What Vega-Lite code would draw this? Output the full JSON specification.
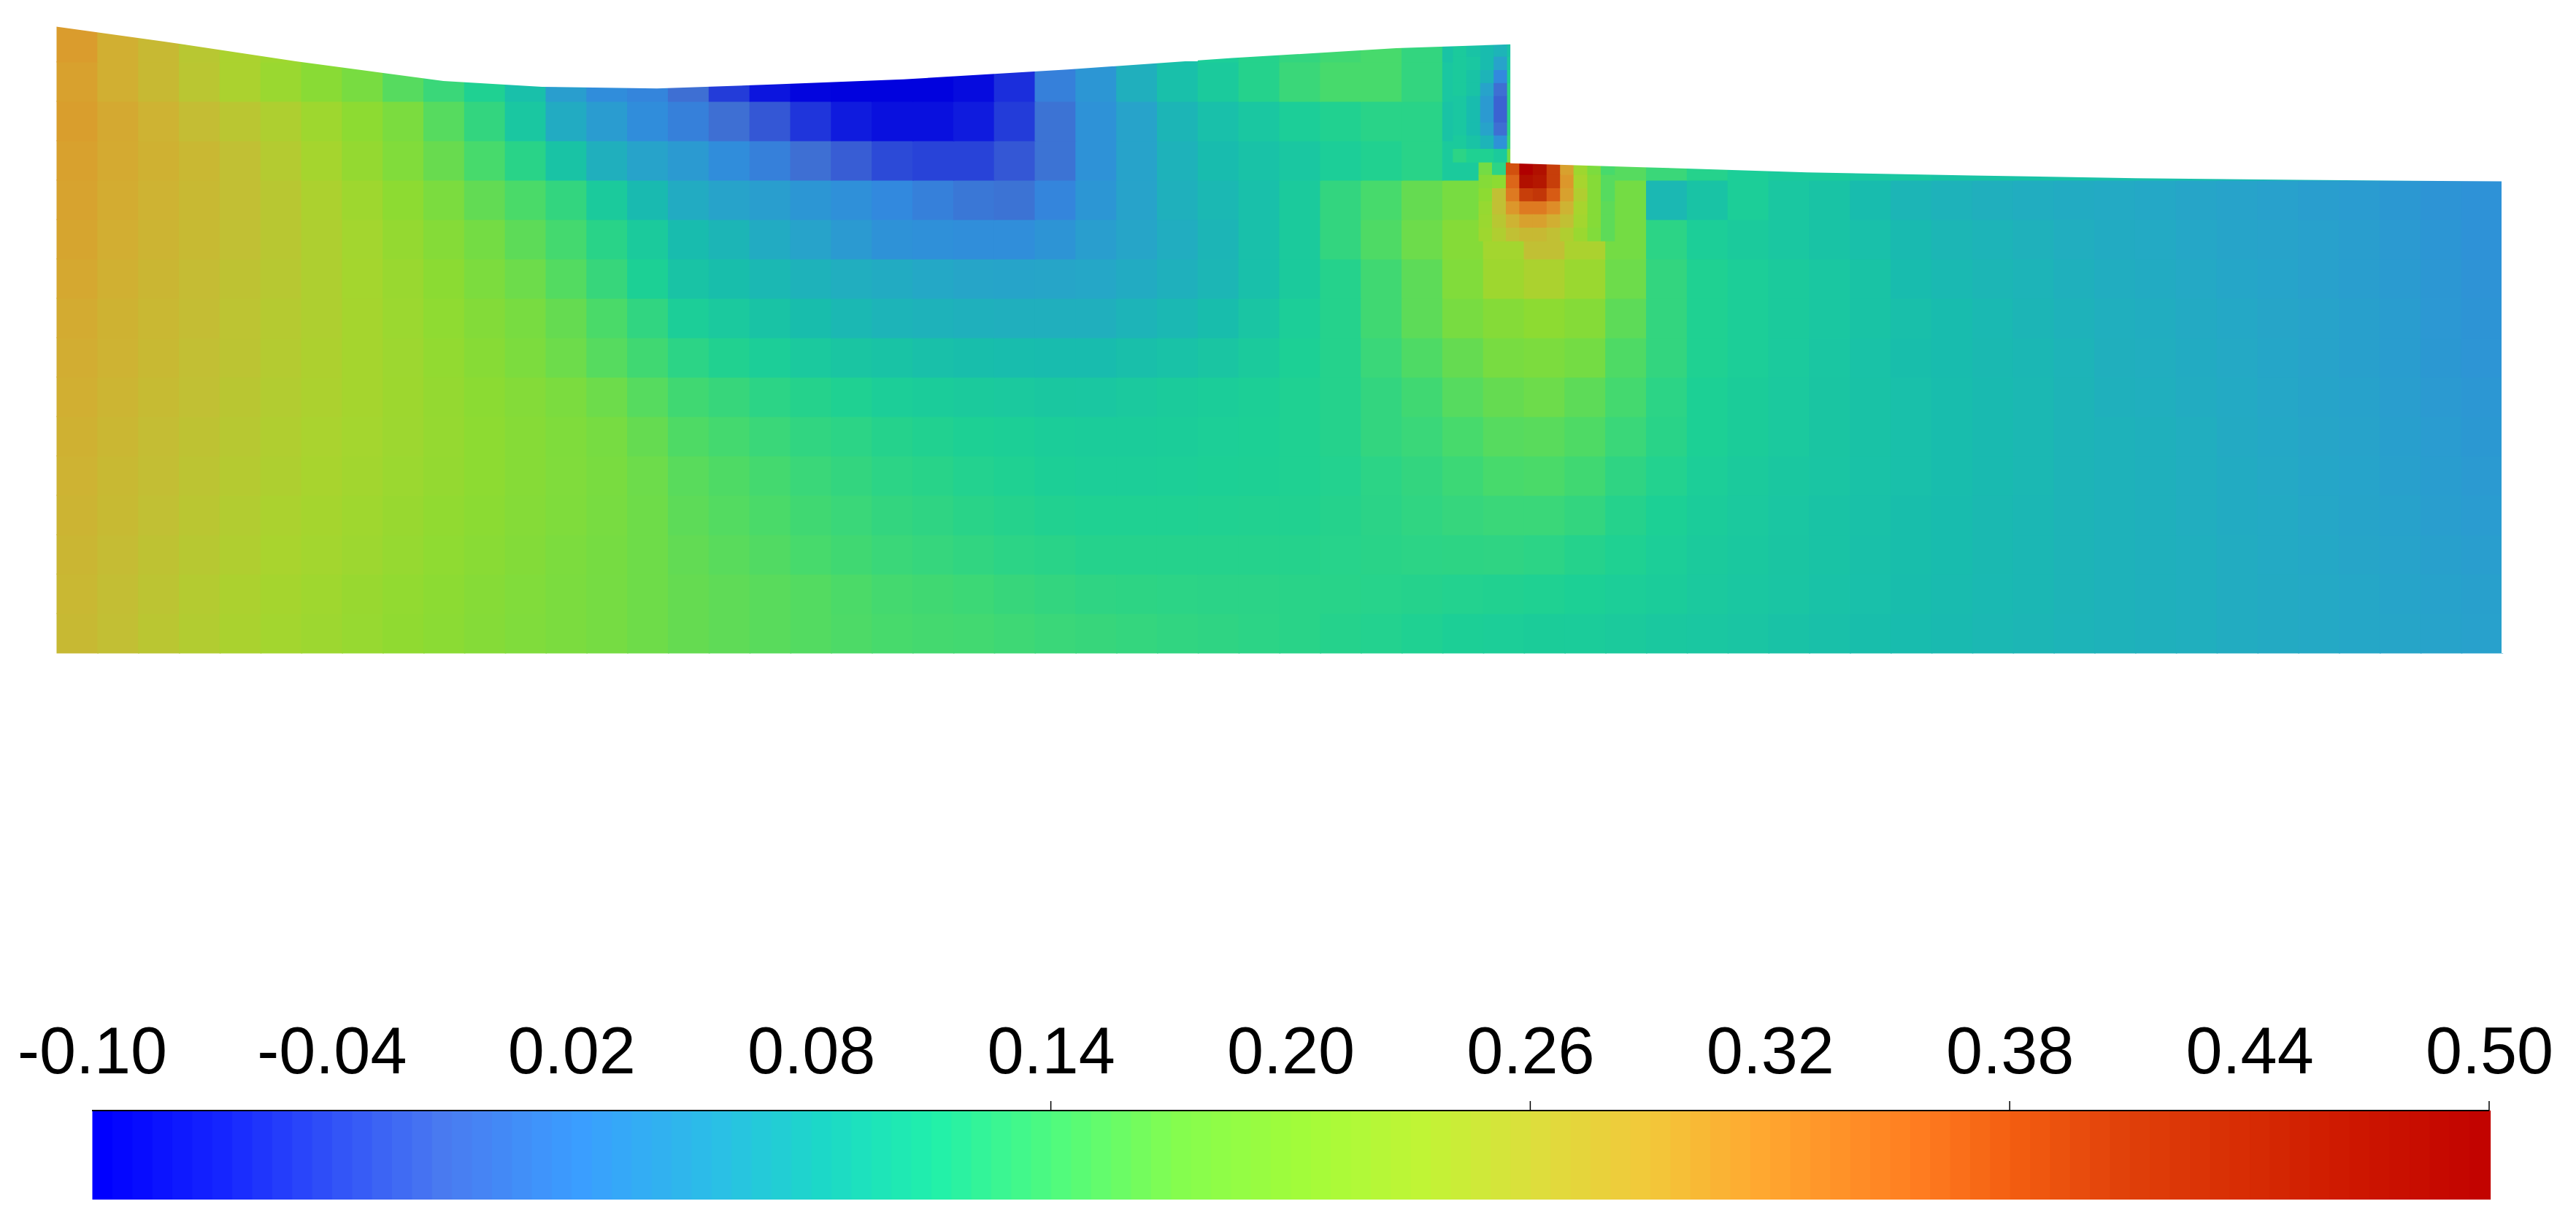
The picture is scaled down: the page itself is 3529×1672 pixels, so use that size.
{"$schema":"https://vega.github.io/schema/vega-lite/v6.json","width":3529,"height":1672,"autosize":"none","padding":0,"background":"white","config":{"view":{"stroke":null}},
"datasets":{
"cells":[
{"x":0,"y":0,"v":0.27},{"x":1,"y":0,"v":0.261},{"x":2,"y":0,"v":0.252},{"x":3,"y":0,"v":0.243},{"x":4,"y":0,"v":0.234},{"x":5,"y":0,"v":0.225},{"x":6,"y":0,"v":0.218},{"x":7,"y":0,"v":0.211},{"x":8,"y":0,"v":0.204},{"x":9,"y":0,"v":0.197},{"x":10,"y":0,"v":0.19},{"x":11,"y":0,"v":0.184},{"x":12,"y":0,"v":0.178},{"x":13,"y":0,"v":0.172},{"x":14,"y":0,"v":0.166},{"x":15,"y":0,"v":0.16},{"x":16,"y":0,"v":0.156},{"x":17,"y":0,"v":0.152},{"x":18,"y":0,"v":0.148},{"x":19,"y":0,"v":0.144},{"x":20,"y":0,"v":0.14},{"x":21,"y":0,"v":0.138},{"x":22,"y":0,"v":0.136},{"x":23,"y":0,"v":0.133},{"x":24,"y":0,"v":0.13},{"x":25,"y":0,"v":0.128},{"x":26,"y":0,"v":0.126},{"x":27,"y":0,"v":0.124},{"x":28,"y":0,"v":0.122},{"x":29,"y":0,"v":0.12},{"x":30,"y":0,"v":0.118},{"x":31,"y":0,"v":0.115},{"x":32,"y":0,"v":0.113},{"x":33,"y":0,"v":0.11},{"x":34,"y":0,"v":0.107},{"x":35,"y":0,"v":0.105},{"x":36,"y":0,"v":0.103},{"x":37,"y":0,"v":0.102},{"x":38,"y":0,"v":0.1},{"x":39,"y":0,"v":0.097},{"x":40,"y":0,"v":0.095},{"x":41,"y":0,"v":0.092},{"x":42,"y":0,"v":0.089},{"x":43,"y":0,"v":0.086},{"x":44,"y":0,"v":0.083},{"x":45,"y":0,"v":0.08},{"x":46,"y":0,"v":0.078},{"x":47,"y":0,"v":0.075},{"x":48,"y":0,"v":0.073},{"x":49,"y":0,"v":0.07},{"x":50,"y":0,"v":0.068},{"x":51,"y":0,"v":0.066},{"x":52,"y":0,"v":0.064},{"x":53,"y":0,"v":0.061},{"x":54,"y":0,"v":0.059},{"x":55,"y":0,"v":0.057},{"x":56,"y":0,"v":0.055},{"x":57,"y":0,"v":0.053},{"x":58,"y":0,"v":0.05},{"x":59,"y":0,"v":0.048},
{"x":0,"y":1,"v":0.272},{"x":1,"y":1,"v":0.263},{"x":2,"y":1,"v":0.254},{"x":3,"y":1,"v":0.245},{"x":4,"y":1,"v":0.236},{"x":5,"y":1,"v":0.228},{"x":6,"y":1,"v":0.221},{"x":7,"y":1,"v":0.213},{"x":8,"y":1,"v":0.206},{"x":9,"y":1,"v":0.199},{"x":10,"y":1,"v":0.192},{"x":11,"y":1,"v":0.185},{"x":12,"y":1,"v":0.179},{"x":13,"y":1,"v":0.172},{"x":14,"y":1,"v":0.166},{"x":15,"y":1,"v":0.16},{"x":16,"y":1,"v":0.156},{"x":17,"y":1,"v":0.152},{"x":18,"y":1,"v":0.148},{"x":19,"y":1,"v":0.143},{"x":20,"y":1,"v":0.138},{"x":21,"y":1,"v":0.135},{"x":22,"y":1,"v":0.132},{"x":23,"y":1,"v":0.128},{"x":24,"y":1,"v":0.125},{"x":25,"y":1,"v":0.122},{"x":26,"y":1,"v":0.121},{"x":27,"y":1,"v":0.12},{"x":28,"y":1,"v":0.119},{"x":29,"y":1,"v":0.119},{"x":30,"y":1,"v":0.118},{"x":31,"y":1,"v":0.117},{"x":32,"y":1,"v":0.116},{"x":33,"y":1,"v":0.115},{"x":34,"y":1,"v":0.113},{"x":35,"y":1,"v":0.112},{"x":36,"y":1,"v":0.11},{"x":37,"y":1,"v":0.108},{"x":38,"y":1,"v":0.105},{"x":39,"y":1,"v":0.102},{"x":40,"y":1,"v":0.098},{"x":41,"y":1,"v":0.095},{"x":42,"y":1,"v":0.092},{"x":43,"y":1,"v":0.088},{"x":44,"y":1,"v":0.085},{"x":45,"y":1,"v":0.082},{"x":46,"y":1,"v":0.079},{"x":47,"y":1,"v":0.076},{"x":48,"y":1,"v":0.074},{"x":49,"y":1,"v":0.071},{"x":50,"y":1,"v":0.068},{"x":51,"y":1,"v":0.066},{"x":52,"y":1,"v":0.064},{"x":53,"y":1,"v":0.061},{"x":54,"y":1,"v":0.059},{"x":55,"y":1,"v":0.057},{"x":56,"y":1,"v":0.055},{"x":57,"y":1,"v":0.052},{"x":58,"y":1,"v":0.049},{"x":59,"y":1,"v":0.047},
{"x":0,"y":2,"v":0.275},{"x":1,"y":2,"v":0.266},{"x":2,"y":2,"v":0.257},{"x":3,"y":2,"v":0.249},{"x":4,"y":2,"v":0.24},{"x":5,"y":2,"v":0.232},{"x":6,"y":2,"v":0.225},{"x":7,"y":2,"v":0.218},{"x":8,"y":2,"v":0.21},{"x":9,"y":2,"v":0.202},{"x":10,"y":2,"v":0.195},{"x":11,"y":2,"v":0.188},{"x":12,"y":2,"v":0.18},{"x":13,"y":2,"v":0.173},{"x":14,"y":2,"v":0.166},{"x":15,"y":2,"v":0.158},{"x":16,"y":2,"v":0.152},{"x":17,"y":2,"v":0.147},{"x":18,"y":2,"v":0.14},{"x":19,"y":2,"v":0.135},{"x":20,"y":2,"v":0.13},{"x":21,"y":2,"v":0.127},{"x":22,"y":2,"v":0.124},{"x":23,"y":2,"v":0.12},{"x":24,"y":2,"v":0.118},{"x":25,"y":2,"v":0.115},{"x":26,"y":2,"v":0.115},{"x":27,"y":2,"v":0.115},{"x":28,"y":2,"v":0.115},{"x":29,"y":2,"v":0.115},{"x":30,"y":2,"v":0.115},{"x":31,"y":2,"v":0.116},{"x":32,"y":2,"v":0.118},{"x":33,"y":2,"v":0.12},{"x":34,"y":2,"v":0.121},{"x":35,"y":2,"v":0.122},{"x":36,"y":2,"v":0.12},{"x":37,"y":2,"v":0.115},{"x":38,"y":2,"v":0.11},{"x":39,"y":2,"v":0.105},{"x":40,"y":2,"v":0.1},{"x":41,"y":2,"v":0.097},{"x":42,"y":2,"v":0.093},{"x":43,"y":2,"v":0.09},{"x":44,"y":2,"v":0.086},{"x":45,"y":2,"v":0.083},{"x":46,"y":2,"v":0.08},{"x":47,"y":2,"v":0.077},{"x":48,"y":2,"v":0.074},{"x":49,"y":2,"v":0.071},{"x":50,"y":2,"v":0.068},{"x":51,"y":2,"v":0.066},{"x":52,"y":2,"v":0.064},{"x":53,"y":2,"v":0.061},{"x":54,"y":2,"v":0.058},{"x":55,"y":2,"v":0.056},{"x":56,"y":2,"v":0.053},{"x":57,"y":2,"v":0.05},{"x":58,"y":2,"v":0.047},{"x":59,"y":2,"v":0.045},
{"x":0,"y":3,"v":0.278},{"x":1,"y":3,"v":0.269},{"x":2,"y":3,"v":0.26},{"x":3,"y":3,"v":0.252},{"x":4,"y":3,"v":0.243},{"x":5,"y":3,"v":0.235},{"x":6,"y":3,"v":0.228},{"x":7,"y":3,"v":0.221},{"x":8,"y":3,"v":0.213},{"x":9,"y":3,"v":0.205},{"x":10,"y":3,"v":0.198},{"x":11,"y":3,"v":0.19},{"x":12,"y":3,"v":0.183},{"x":13,"y":3,"v":0.175},{"x":14,"y":3,"v":0.166},{"x":15,"y":3,"v":0.155},{"x":16,"y":3,"v":0.148},{"x":17,"y":3,"v":0.142},{"x":18,"y":3,"v":0.135},{"x":19,"y":3,"v":0.13},{"x":20,"y":3,"v":0.125},{"x":21,"y":3,"v":0.122},{"x":22,"y":3,"v":0.118},{"x":23,"y":3,"v":0.115},{"x":24,"y":3,"v":0.112},{"x":25,"y":3,"v":0.11},{"x":26,"y":3,"v":0.11},{"x":27,"y":3,"v":0.11},{"x":28,"y":3,"v":0.111},{"x":29,"y":3,"v":0.112},{"x":30,"y":3,"v":0.112},{"x":31,"y":3,"v":0.115},{"x":32,"y":3,"v":0.119},{"x":33,"y":3,"v":0.123},{"x":34,"y":3,"v":0.127},{"x":35,"y":3,"v":0.13},{"x":36,"y":3,"v":0.13},{"x":37,"y":3,"v":0.125},{"x":38,"y":3,"v":0.115},{"x":39,"y":3,"v":0.108},{"x":40,"y":3,"v":0.102},{"x":41,"y":3,"v":0.098},{"x":42,"y":3,"v":0.094},{"x":43,"y":3,"v":0.09},{"x":44,"y":3,"v":0.087},{"x":45,"y":3,"v":0.083},{"x":46,"y":3,"v":0.08},{"x":47,"y":3,"v":0.077},{"x":48,"y":3,"v":0.074},{"x":49,"y":3,"v":0.071},{"x":50,"y":3,"v":0.068},{"x":51,"y":3,"v":0.066},{"x":52,"y":3,"v":0.063},{"x":53,"y":3,"v":0.06},{"x":54,"y":3,"v":0.058},{"x":55,"y":3,"v":0.055},{"x":56,"y":3,"v":0.052},{"x":57,"y":3,"v":0.049},{"x":58,"y":3,"v":0.045},{"x":59,"y":3,"v":0.042},
{"x":0,"y":4,"v":0.28},{"x":1,"y":4,"v":0.271},{"x":2,"y":4,"v":0.263},{"x":3,"y":4,"v":0.254},{"x":4,"y":4,"v":0.246},{"x":5,"y":4,"v":0.238},{"x":6,"y":4,"v":0.231},{"x":7,"y":4,"v":0.224},{"x":8,"y":4,"v":0.216},{"x":9,"y":4,"v":0.208},{"x":10,"y":4,"v":0.2},{"x":11,"y":4,"v":0.192},{"x":12,"y":4,"v":0.184},{"x":13,"y":4,"v":0.176},{"x":14,"y":4,"v":0.165},{"x":15,"y":4,"v":0.152},{"x":16,"y":4,"v":0.145},{"x":17,"y":4,"v":0.138},{"x":18,"y":4,"v":0.13},{"x":19,"y":4,"v":0.125},{"x":20,"y":4,"v":0.12},{"x":21,"y":4,"v":0.117},{"x":22,"y":4,"v":0.113},{"x":23,"y":4,"v":0.11},{"x":24,"y":4,"v":0.107},{"x":25,"y":4,"v":0.105},{"x":26,"y":4,"v":0.105},{"x":27,"y":4,"v":0.106},{"x":28,"y":4,"v":0.108},{"x":29,"y":4,"v":0.109},{"x":30,"y":4,"v":0.11},{"x":31,"y":4,"v":0.113},{"x":32,"y":4,"v":0.12},{"x":33,"y":4,"v":0.125},{"x":34,"y":4,"v":0.132},{"x":35,"y":4,"v":0.14},{"x":36,"y":4,"v":0.142},{"x":37,"y":4,"v":0.135},{"x":38,"y":4,"v":0.122},{"x":39,"y":4,"v":0.113},{"x":40,"y":4,"v":0.105},{"x":41,"y":4,"v":0.1},{"x":42,"y":4,"v":0.096},{"x":43,"y":4,"v":0.092},{"x":44,"y":4,"v":0.088},{"x":45,"y":4,"v":0.085},{"x":46,"y":4,"v":0.081},{"x":47,"y":4,"v":0.078},{"x":48,"y":4,"v":0.075},{"x":49,"y":4,"v":0.071},{"x":50,"y":4,"v":0.068},{"x":51,"y":4,"v":0.066},{"x":52,"y":4,"v":0.063},{"x":53,"y":4,"v":0.06},{"x":54,"y":4,"v":0.057},{"x":55,"y":4,"v":0.054},{"x":56,"y":4,"v":0.051},{"x":57,"y":4,"v":0.047},{"x":58,"y":4,"v":0.043},{"x":59,"y":4,"v":0.04},
{"x":0,"y":5,"v":0.283},{"x":1,"y":5,"v":0.274},{"x":2,"y":5,"v":0.265},{"x":3,"y":5,"v":0.257},{"x":4,"y":5,"v":0.248},{"x":5,"y":5,"v":0.24},{"x":6,"y":5,"v":0.233},{"x":7,"y":5,"v":0.226},{"x":8,"y":5,"v":0.218},{"x":9,"y":5,"v":0.209},{"x":10,"y":5,"v":0.2},{"x":11,"y":5,"v":0.192},{"x":12,"y":5,"v":0.183},{"x":13,"y":5,"v":0.174},{"x":14,"y":5,"v":0.16},{"x":15,"y":5,"v":0.145},{"x":16,"y":5,"v":0.138},{"x":17,"y":5,"v":0.13},{"x":18,"y":5,"v":0.124},{"x":19,"y":5,"v":0.12},{"x":20,"y":5,"v":0.115},{"x":21,"y":5,"v":0.112},{"x":22,"y":5,"v":0.109},{"x":23,"y":5,"v":0.107},{"x":24,"y":5,"v":0.104},{"x":25,"y":5,"v":0.102},{"x":26,"y":5,"v":0.102},{"x":27,"y":5,"v":0.104},{"x":28,"y":5,"v":0.106},{"x":29,"y":5,"v":0.108},{"x":30,"y":5,"v":0.11},{"x":31,"y":5,"v":0.115},{"x":32,"y":5,"v":0.125},{"x":33,"y":5,"v":0.13},{"x":34,"y":5,"v":0.14},{"x":35,"y":5,"v":0.15},{"x":36,"y":5,"v":0.152},{"x":37,"y":5,"v":0.145},{"x":38,"y":5,"v":0.13},{"x":39,"y":5,"v":0.118},{"x":40,"y":5,"v":0.108},{"x":41,"y":5,"v":0.103},{"x":42,"y":5,"v":0.098},{"x":43,"y":5,"v":0.093},{"x":44,"y":5,"v":0.089},{"x":45,"y":5,"v":0.085},{"x":46,"y":5,"v":0.081},{"x":47,"y":5,"v":0.078},{"x":48,"y":5,"v":0.075},{"x":49,"y":5,"v":0.071},{"x":50,"y":5,"v":0.068},{"x":51,"y":5,"v":0.066},{"x":52,"y":5,"v":0.063},{"x":53,"y":5,"v":0.059},{"x":54,"y":5,"v":0.056},{"x":55,"y":5,"v":0.053},{"x":56,"y":5,"v":0.05},{"x":57,"y":5,"v":0.046},{"x":58,"y":5,"v":0.042},{"x":59,"y":5,"v":0.038},
{"x":0,"y":6,"v":0.285},{"x":1,"y":6,"v":0.277},{"x":2,"y":6,"v":0.268},{"x":3,"y":6,"v":0.26},{"x":4,"y":6,"v":0.251},{"x":5,"y":6,"v":0.243},{"x":6,"y":6,"v":0.236},{"x":7,"y":6,"v":0.228},{"x":8,"y":6,"v":0.219},{"x":9,"y":6,"v":0.208},{"x":10,"y":6,"v":0.198},{"x":11,"y":6,"v":0.189},{"x":12,"y":6,"v":0.178},{"x":13,"y":6,"v":0.165},{"x":14,"y":6,"v":0.15},{"x":15,"y":6,"v":0.135},{"x":16,"y":6,"v":0.128},{"x":17,"y":6,"v":0.12},{"x":18,"y":6,"v":0.115},{"x":19,"y":6,"v":0.11},{"x":20,"y":6,"v":0.105},{"x":21,"y":6,"v":0.102},{"x":22,"y":6,"v":0.1},{"x":23,"y":6,"v":0.098},{"x":24,"y":6,"v":0.096},{"x":25,"y":6,"v":0.095},{"x":26,"y":6,"v":0.098},{"x":27,"y":6,"v":0.101},{"x":28,"y":6,"v":0.104},{"x":29,"y":6,"v":0.107},{"x":30,"y":6,"v":0.11},{"x":31,"y":6,"v":0.115},{"x":32,"y":6,"v":0.125},{"x":33,"y":6,"v":0.135},{"x":34,"y":6,"v":0.15},{"x":35,"y":6,"v":0.16},{"x":36,"y":6,"v":0.165},{"x":37,"y":6,"v":0.155},{"x":38,"y":6,"v":0.138},{"x":39,"y":6,"v":0.12},{"x":40,"y":6,"v":0.108},{"x":41,"y":6,"v":0.103},{"x":42,"y":6,"v":0.098},{"x":43,"y":6,"v":0.093},{"x":44,"y":6,"v":0.089},{"x":45,"y":6,"v":0.085},{"x":46,"y":6,"v":0.081},{"x":47,"y":6,"v":0.078},{"x":48,"y":6,"v":0.075},{"x":49,"y":6,"v":0.071},{"x":50,"y":6,"v":0.066},{"x":51,"y":6,"v":0.064},{"x":52,"y":6,"v":0.061},{"x":53,"y":6,"v":0.058},{"x":54,"y":6,"v":0.055},{"x":55,"y":6,"v":0.052},{"x":56,"y":6,"v":0.049},{"x":57,"y":6,"v":0.045},{"x":58,"y":6,"v":0.04},{"x":59,"y":6,"v":0.036},
{"x":0,"y":7,"v":0.288},{"x":1,"y":7,"v":0.28},{"x":2,"y":7,"v":0.271},{"x":3,"y":7,"v":0.262},{"x":4,"y":7,"v":0.254},{"x":5,"y":7,"v":0.245},{"x":6,"y":7,"v":0.237},{"x":7,"y":7,"v":0.228},{"x":8,"y":7,"v":0.218},{"x":9,"y":7,"v":0.206},{"x":10,"y":7,"v":0.193},{"x":11,"y":7,"v":0.18},{"x":12,"y":7,"v":0.165},{"x":13,"y":7,"v":0.15},{"x":14,"y":7,"v":0.135},{"x":15,"y":7,"v":0.12},{"x":16,"y":7,"v":0.112},{"x":17,"y":7,"v":0.105},{"x":18,"y":7,"v":0.098},{"x":19,"y":7,"v":0.093},{"x":20,"y":7,"v":0.09},{"x":21,"y":7,"v":0.086},{"x":22,"y":7,"v":0.083},{"x":23,"y":7,"v":0.081},{"x":24,"y":7,"v":0.08},{"x":25,"y":7,"v":0.08},{"x":26,"y":7,"v":0.084},{"x":27,"y":7,"v":0.088},{"x":28,"y":7,"v":0.093},{"x":29,"y":7,"v":0.1},{"x":30,"y":7,"v":0.108},{"x":31,"y":7,"v":0.115},{"x":32,"y":7,"v":0.13},{"x":33,"y":7,"v":0.145},{"x":34,"y":7,"v":0.16},{"x":35,"y":7,"v":0.175},{"x":36,"y":7,"v":0.18},{"x":37,"y":7,"v":0.17},{"x":38,"y":7,"v":0.145},{"x":39,"y":7,"v":0.125},{"x":40,"y":7,"v":0.11},{"x":41,"y":7,"v":0.105},{"x":42,"y":7,"v":0.099},{"x":43,"y":7,"v":0.094},{"x":44,"y":7,"v":0.088},{"x":45,"y":7,"v":0.083},{"x":46,"y":7,"v":0.08},{"x":47,"y":7,"v":0.077},{"x":48,"y":7,"v":0.074},{"x":49,"y":7,"v":0.07},{"x":50,"y":7,"v":0.065},{"x":51,"y":7,"v":0.063},{"x":52,"y":7,"v":0.06},{"x":53,"y":7,"v":0.057},{"x":54,"y":7,"v":0.054},{"x":55,"y":7,"v":0.05},{"x":56,"y":7,"v":0.047},{"x":57,"y":7,"v":0.043},{"x":58,"y":7,"v":0.038},{"x":59,"y":7,"v":0.034},
{"x":0,"y":8,"v":0.29},{"x":1,"y":8,"v":0.281},{"x":2,"y":8,"v":0.272},{"x":3,"y":8,"v":0.264},{"x":4,"y":8,"v":0.255},{"x":5,"y":8,"v":0.246},{"x":6,"y":8,"v":0.238},{"x":7,"y":8,"v":0.228},{"x":8,"y":8,"v":0.216},{"x":9,"y":8,"v":0.202},{"x":10,"y":8,"v":0.188},{"x":11,"y":8,"v":0.175},{"x":12,"y":8,"v":0.16},{"x":13,"y":8,"v":0.142},{"x":14,"y":8,"v":0.124},{"x":15,"y":8,"v":0.105},{"x":16,"y":8,"v":0.098},{"x":17,"y":8,"v":0.09},{"x":18,"y":8,"v":0.082},{"x":19,"y":8,"v":0.075},{"x":20,"y":8,"v":0.07},{"x":21,"y":8,"v":0.068},{"x":22,"y":8,"v":0.066},{"x":23,"y":8,"v":0.065},{"x":24,"y":8,"v":0.065},{"x":25,"y":8,"v":0.065},{"x":26,"y":8,"v":0.07},{"x":27,"y":8,"v":0.075},{"x":28,"y":8,"v":0.082},{"x":29,"y":8,"v":0.092},{"x":30,"y":8,"v":0.105},{"x":31,"y":8,"v":0.115},{"x":32,"y":8,"v":0.135},{"x":33,"y":8,"v":0.155},{"x":34,"y":8,"v":0.175},{"x":35,"y":8,"v":0.19},{"x":36,"y":8,"v":0.2},{"x":37,"y":8,"v":0.19},{"x":38,"y":8,"v":0.155},{"x":39,"y":8,"v":0.125},{"x":40,"y":8,"v":0.11},{"x":41,"y":8,"v":0.105},{"x":42,"y":8,"v":0.1},{"x":43,"y":8,"v":0.095},{"x":44,"y":8,"v":0.09},{"x":45,"y":8,"v":0.084},{"x":46,"y":8,"v":0.08},{"x":47,"y":8,"v":0.076},{"x":48,"y":8,"v":0.072},{"x":49,"y":8,"v":0.068},{"x":50,"y":8,"v":0.064},{"x":51,"y":8,"v":0.062},{"x":52,"y":8,"v":0.059},{"x":53,"y":8,"v":0.056},{"x":54,"y":8,"v":0.053},{"x":55,"y":8,"v":0.05},{"x":56,"y":8,"v":0.047},{"x":57,"y":8,"v":0.043},{"x":58,"y":8,"v":0.037},{"x":59,"y":8,"v":0.033},
{"x":0,"y":9,"v":0.293},{"x":1,"y":9,"v":0.284},{"x":2,"y":9,"v":0.275},{"x":3,"y":9,"v":0.266},{"x":4,"y":9,"v":0.257},{"x":5,"y":9,"v":0.248},{"x":6,"y":9,"v":0.238},{"x":7,"y":9,"v":0.227},{"x":8,"y":9,"v":0.214},{"x":9,"y":9,"v":0.198},{"x":10,"y":9,"v":0.18},{"x":11,"y":9,"v":0.165},{"x":12,"y":9,"v":0.148},{"x":13,"y":9,"v":0.128},{"x":14,"y":9,"v":0.108},{"x":15,"y":9,"v":0.09},{"x":16,"y":9,"v":0.083},{"x":17,"y":9,"v":0.075},{"x":18,"y":9,"v":0.068},{"x":19,"y":9,"v":0.063},{"x":20,"y":9,"v":0.06},{"x":21,"y":9,"v":0.056},{"x":22,"y":9,"v":0.053},{"x":23,"y":9,"v":0.052},{"x":24,"y":9,"v":0.053},{"x":25,"y":9,"v":0.055},{"x":26,"y":9,"v":0.06},{"x":27,"y":9,"v":0.066},{"x":28,"y":9,"v":0.073},{"x":29,"y":9,"v":0.085},{"x":30,"y":9,"v":0.1},{"x":31,"y":9,"v":0.115},{"x":32,"y":9,"v":0.135},{"x":33,"y":9,"v":0.155},{"x":34,"y":9,"v":0.185},{"x":35,"y":9,"v":0.22},{"x":36,"y":9,"v":0.235},{"x":37,"y":9,"v":0.215},{"x":38,"y":9,"v":0.165},{"x":39,"y":9,"v":0.125},{"x":40,"y":9,"v":0.11},{"x":41,"y":9,"v":0.105},{"x":42,"y":9,"v":0.1},{"x":43,"y":9,"v":0.095},{"x":44,"y":9,"v":0.09},{"x":45,"y":9,"v":0.08},{"x":46,"y":9,"v":0.076},{"x":47,"y":9,"v":0.073},{"x":48,"y":9,"v":0.07},{"x":49,"y":9,"v":0.066},{"x":50,"y":9,"v":0.062},{"x":51,"y":9,"v":0.06},{"x":52,"y":9,"v":0.057},{"x":53,"y":9,"v":0.054},{"x":54,"y":9,"v":0.051},{"x":55,"y":9,"v":0.048},{"x":56,"y":9,"v":0.045},{"x":57,"y":9,"v":0.041},{"x":58,"y":9,"v":0.036},{"x":59,"y":9,"v":0.032},
{"x":0,"y":10,"v":0.296},{"x":1,"y":10,"v":0.287},{"x":2,"y":10,"v":0.278},{"x":3,"y":10,"v":0.269},{"x":4,"y":10,"v":0.26},{"x":5,"y":10,"v":0.25},{"x":6,"y":10,"v":0.238},{"x":7,"y":10,"v":0.225},{"x":8,"y":10,"v":0.208},{"x":9,"y":10,"v":0.19},{"x":10,"y":10,"v":0.17},{"x":11,"y":10,"v":0.155},{"x":12,"y":10,"v":0.138},{"x":13,"y":10,"v":0.118},{"x":14,"y":10,"v":0.1},{"x":15,"y":10,"v":0.08},{"x":16,"y":10,"v":0.072},{"x":17,"y":10,"v":0.06},{"x":18,"y":10,"v":0.05},{"x":19,"y":10,"v":0.04},{"x":20,"y":10,"v":0.03},{"x":21,"y":10,"v":0.028},{"x":22,"y":10,"v":0.026},{"x":23,"y":10,"v":0.026},{"x":24,"y":10,"v":0.033},{"x":25,"y":10,"v":0.045},{"x":26,"y":10,"v":0.053},{"x":27,"y":10,"v":0.062},{"x":28,"y":10,"v":0.072},{"x":29,"y":10,"v":0.085},{"x":30,"y":10,"v":0.1},{"x":31,"y":10,"v":0.125},{"x":32,"y":10,"v":0.145},{"x":33,"y":10,"v":0.165},{"x":34,"y":10,"v":0.19},{"x":35,"y":10,"v":0.225},{"x":36,"y":10,"v":0.26},{"x":37,"y":10,"v":0.235},{"x":38,"y":10,"v":0.17},{"x":39,"y":10,"v":0.12},{"x":40,"y":10,"v":0.105},{"x":41,"y":10,"v":0.1},{"x":42,"y":10,"v":0.095},{"x":43,"y":10,"v":0.09},{"x":44,"y":10,"v":0.085},{"x":45,"y":10,"v":0.078},{"x":46,"y":10,"v":0.073},{"x":47,"y":10,"v":0.07},{"x":48,"y":10,"v":0.067},{"x":49,"y":10,"v":0.063},{"x":50,"y":10,"v":0.06},{"x":51,"y":10,"v":0.058},{"x":52,"y":10,"v":0.055},{"x":53,"y":10,"v":0.052},{"x":54,"y":10,"v":0.05},{"x":55,"y":10,"v":0.048},{"x":56,"y":10,"v":0.044},{"x":57,"y":10,"v":0.04},{"x":58,"y":10,"v":0.035},{"x":59,"y":10,"v":0.031},
{"x":0,"y":11,"v":0.298},{"x":1,"y":11,"v":0.289},{"x":2,"y":11,"v":0.28},{"x":3,"y":11,"v":0.271},{"x":4,"y":11,"v":0.261},{"x":5,"y":11,"v":0.25},{"x":6,"y":11,"v":0.236},{"x":7,"y":11,"v":0.22},{"x":8,"y":11,"v":0.2},{"x":9,"y":11,"v":0.178},{"x":10,"y":11,"v":0.158},{"x":11,"y":11,"v":0.142},{"x":12,"y":11,"v":0.125},{"x":13,"y":11,"v":0.1},{"x":14,"y":11,"v":0.078},{"x":15,"y":11,"v":0.06},{"x":16,"y":11,"v":0.05},{"x":17,"y":11,"v":0.045},{"x":18,"y":11,"v":0.035},{"x":19,"y":11,"v":0.028},{"x":20,"y":11,"v":0.02},{"x":21,"y":11,"v":0.01},{"x":22,"y":11,"v":0},{"x":23,"y":11,"v":-0.005},{"x":24,"y":11,"v":0.015},{"x":25,"y":11,"v":0.035},{"x":26,"y":11,"v":0.05},{"x":27,"y":11,"v":0.066},{"x":28,"y":11,"v":0.075},{"x":29,"y":11,"v":0.085},{"x":30,"y":11,"v":0.1},{"x":31,"y":11,"v":0.125},{"x":32,"y":11,"v":0.14},{"x":33,"y":11,"v":0.16},{"x":34,"y":11,"v":0.175},{"x":35,"y":11,"v":0.2},{"x":36,"y":11,"v":0.3},{"x":37,"y":11,"v":0.24},{"x":38,"y":11,"v":0.17},{"x":39,"y":11,"v":0.075},{"x":40,"y":11,"v":0.09},{"x":41,"y":11,"v":0.105},{"x":42,"y":11,"v":0.095},{"x":43,"y":11,"v":0.09},{"x":44,"y":11,"v":0.08},{"x":45,"y":11,"v":0.072},{"x":46,"y":11,"v":0.068},{"x":47,"y":11,"v":0.065},{"x":48,"y":11,"v":0.062},{"x":49,"y":11,"v":0.06},{"x":50,"y":11,"v":0.058},{"x":51,"y":11,"v":0.056},{"x":52,"y":11,"v":0.053},{"x":53,"y":11,"v":0.05},{"x":54,"y":11,"v":0.048},{"x":55,"y":11,"v":0.045},{"x":56,"y":11,"v":0.042},{"x":57,"y":11,"v":0.038},{"x":58,"y":11,"v":0.033},{"x":59,"y":11,"v":0.03},
{"x":0,"y":12,"v":0.3},{"x":1,"y":12,"v":0.291},{"x":2,"y":12,"v":0.282},{"x":3,"y":12,"v":0.272},{"x":4,"y":12,"v":0.26},{"x":5,"y":12,"v":0.245},{"x":6,"y":12,"v":0.228},{"x":7,"y":12,"v":0.208},{"x":8,"y":12,"v":0.185},{"x":9,"y":12,"v":0.162},{"x":10,"y":12,"v":0.14},{"x":11,"y":12,"v":0.118},{"x":12,"y":12,"v":0.09},{"x":13,"y":12,"v":0.065},{"x":14,"y":12,"v":0.05},{"x":15,"y":12,"v":0.04},{"x":16,"y":12,"v":0.025},{"x":17,"y":12,"v":0.01},{"x":18,"y":12,"v":-0.01},{"x":19,"y":12,"v":-0.025},{"x":20,"y":12,"v":-0.04},{"x":21,"y":12,"v":-0.045},{"x":22,"y":12,"v":-0.045},{"x":23,"y":12,"v":-0.03},{"x":24,"y":12,"v":-0.005},{"x":25,"y":12,"v":0.03},{"x":26,"y":12,"v":0.05},{"x":27,"y":12,"v":0.068},{"x":28,"y":12,"v":0.08},{"x":29,"y":12,"v":0.088},{"x":30,"y":12,"v":0.095},{"x":31,"y":12,"v":0.105},{"x":32,"y":12,"v":0.112},{"x":33,"y":12,"v":0.118},{"x":34,"y":12,"v":0.1},{"x":35,"y":12,"v":0.085},{"x":36,"y":12,"v":0.17},{"x":37,"y":12,"v":0.165},{"x":38,"y":12,"v":0.15},{"x":39,"y":12,"v":0.13},{"x":40,"y":12,"v":0.115},{"x":41,"y":12,"v":0.105},{"x":42,"y":12,"v":0.1},{"x":43,"y":12,"v":0.1},{"x":44,"y":12,"v":0.095},{"x":45,"y":12,"v":0.095},{"x":46,"y":12,"v":0.09},{"x":47,"y":12,"v":0.09},{"x":48,"y":12,"v":0.088},{"x":49,"y":12,"v":0.088},{"x":50,"y":12,"v":0.085},{"x":51,"y":12,"v":0.085},{"x":52,"y":12,"v":0.085},{"x":53,"y":12,"v":0.08},{"x":54,"y":12,"v":0.08},{"x":55,"y":12,"v":0.08},{"x":56,"y":12,"v":0.08},{"x":57,"y":12,"v":0.08},{"x":58,"y":12,"v":0.08},{"x":59,"y":12,"v":0.08},
{"x":0,"y":13,"v":0.303},{"x":1,"y":13,"v":0.292},{"x":2,"y":13,"v":0.28},{"x":3,"y":13,"v":0.265},{"x":4,"y":13,"v":0.252},{"x":5,"y":13,"v":0.238},{"x":6,"y":13,"v":0.22},{"x":7,"y":13,"v":0.2},{"x":8,"y":13,"v":0.178},{"x":9,"y":13,"v":0.15},{"x":10,"y":13,"v":0.125},{"x":11,"y":13,"v":0.095},{"x":12,"y":13,"v":0.06},{"x":13,"y":13,"v":0.042},{"x":14,"y":13,"v":0.025},{"x":15,"y":13,"v":0.01},{"x":16,"y":13,"v":-0.01},{"x":17,"y":13,"v":-0.03},{"x":18,"y":13,"v":-0.055},{"x":19,"y":13,"v":-0.075},{"x":20,"y":13,"v":-0.085},{"x":21,"y":13,"v":-0.085},{"x":22,"y":13,"v":-0.075},{"x":23,"y":13,"v":-0.05},{"x":24,"y":13,"v":-0.005},{"x":25,"y":13,"v":0.03},{"x":26,"y":13,"v":0.05},{"x":27,"y":13,"v":0.072},{"x":28,"y":13,"v":0.085},{"x":29,"y":13,"v":0.095},{"x":30,"y":13,"v":0.105},{"x":31,"y":13,"v":0.112},{"x":32,"y":13,"v":0.118},{"x":33,"y":13,"v":0.118},{"x":34,"y":13,"v":0.09},{"x":35,"y":13,"v":0.07},
{"x":0,"y":14,"v":0.3},{"x":1,"y":14,"v":0.285},{"x":2,"y":14,"v":0.27},{"x":3,"y":14,"v":0.252},{"x":4,"y":14,"v":0.235},{"x":5,"y":14,"v":0.215},{"x":6,"y":14,"v":0.195},{"x":7,"y":14,"v":0.175},{"x":8,"y":14,"v":0.15},{"x":9,"y":14,"v":0.13},{"x":10,"y":14,"v":0.11},{"x":11,"y":14,"v":0.085},{"x":12,"y":14,"v":0.045},{"x":13,"y":14,"v":0.025},{"x":14,"y":14,"v":0.015},{"x":15,"y":14,"v":-0.01},{"x":16,"y":14,"v":-0.05},{"x":17,"y":14,"v":-0.08},{"x":18,"y":14,"v":-0.095},{"x":19,"y":14,"v":-0.098},{"x":20,"y":14,"v":-0.098},{"x":21,"y":14,"v":-0.098},{"x":22,"y":14,"v":-0.09},{"x":23,"y":14,"v":-0.06},{"x":24,"y":14,"v":0.01},{"x":25,"y":14,"v":0.035},{"x":26,"y":14,"v":0.065},{"x":27,"y":14,"v":0.085},{"x":28,"y":14,"v":0.1},{"x":29,"y":14,"v":0.115},{"x":30,"y":14,"v":0.13},{"x":31,"y":14,"v":0.14},{"x":32,"y":14,"v":0.14},{"x":33,"y":14,"v":0.125},{"x":34,"y":14,"v":0.095},{"x":35,"y":14,"v":0.075},
{"x":0,"y":15,"v":0.305},{"x":1,"y":15,"v":0.285},{"x":2,"y":15,"v":0.27},{"x":3,"y":15,"v":0.25},{"x":4,"y":15,"v":0.235},{"x":5,"y":15,"v":0.22},{"x":6,"y":15,"v":0.2},{"x":28,"y":15,"v":0.105},{"x":29,"y":15,"v":0.115},{"x":30,"y":15,"v":0.125},{"x":31,"y":15,"v":0.135},{"x":32,"y":15,"v":0.14},{"x":33,"y":15,"v":0.125},{"x":34,"y":15,"v":0.09},{"x":35,"y":15,"v":0.07}
],
"fine":[
{"x":34.89,"y":12.13,"v":0.17},{"x":35.22,"y":12.13,"v":0.12},{"x":35.56,"y":12.13,"v":0.38},{"x":35.89,"y":12.13,"v":0.5},{"x":36.22,"y":12.13,"v":0.47},{"x":36.56,"y":12.13,"v":0.4},{"x":36.89,"y":12.13,"v":0.3},{"x":37.22,"y":12.13,"v":0.22},{"x":37.56,"y":12.13,"v":0.18},{"x":37.89,"y":12.13,"v":0.14},
{"x":34.89,"y":11.8,"v":0.19},{"x":35.22,"y":11.8,"v":0.2},{"x":35.56,"y":11.8,"v":0.36},{"x":35.89,"y":11.8,"v":0.47},{"x":36.22,"y":11.8,"v":0.46},{"x":36.56,"y":11.8,"v":0.4},{"x":36.89,"y":11.8,"v":0.31},{"x":37.22,"y":11.8,"v":0.23},{"x":37.56,"y":11.8,"v":0.19},{"x":37.89,"y":11.8,"v":0.15},
{"x":34.89,"y":11.46,"v":0.2},{"x":35.22,"y":11.46,"v":0.26},{"x":35.56,"y":11.46,"v":0.34},{"x":35.89,"y":11.46,"v":0.4},{"x":36.22,"y":11.46,"v":0.41},{"x":36.56,"y":11.46,"v":0.37},{"x":36.89,"y":11.46,"v":0.3},{"x":37.22,"y":11.46,"v":0.24},{"x":37.56,"y":11.46,"v":0.19},{"x":37.89,"y":11.46,"v":0.15},
{"x":34.89,"y":11.13,"v":0.21},{"x":35.22,"y":11.13,"v":0.26},{"x":35.56,"y":11.13,"v":0.31},{"x":35.89,"y":11.13,"v":0.34},{"x":36.22,"y":11.13,"v":0.34},{"x":36.56,"y":11.13,"v":0.32},{"x":36.89,"y":11.13,"v":0.28},{"x":37.22,"y":11.13,"v":0.23},{"x":37.56,"y":11.13,"v":0.19},{"x":37.89,"y":11.13,"v":0.155},
{"x":34.89,"y":10.8,"v":0.215},{"x":35.22,"y":10.8,"v":0.25},{"x":35.56,"y":10.8,"v":0.28},{"x":35.89,"y":10.8,"v":0.3},{"x":36.22,"y":10.8,"v":0.3},{"x":36.56,"y":10.8,"v":0.285},{"x":36.89,"y":10.8,"v":0.26},{"x":37.22,"y":10.8,"v":0.225},{"x":37.56,"y":10.8,"v":0.19},{"x":37.89,"y":10.8,"v":0.155},
{"x":34.89,"y":10.46,"v":0.22},{"x":35.22,"y":10.46,"v":0.24},{"x":35.56,"y":10.46,"v":0.26},{"x":35.89,"y":10.46,"v":0.27},{"x":36.22,"y":10.46,"v":0.27},{"x":36.56,"y":10.46,"v":0.26},{"x":36.89,"y":10.46,"v":0.24},{"x":37.22,"y":10.46,"v":0.215},{"x":37.56,"y":10.46,"v":0.185},{"x":37.89,"y":10.46,"v":0.155},
{"x":34.26,"y":15.13,"v":0.1},{"x":34.59,"y":15.13,"v":0.09},{"x":34.93,"y":15.13,"v":0.08},{"x":35.26,"y":15.13,"v":0.07},{"x":35.59,"y":15.13,"v":0.09},
{"x":34.26,"y":14.8,"v":0.1},{"x":34.59,"y":14.8,"v":0.095},{"x":34.93,"y":14.8,"v":0.08},{"x":35.26,"y":14.8,"v":0.05},{"x":35.59,"y":14.8,"v":0.1},
{"x":34.26,"y":14.46,"v":0.1},{"x":34.59,"y":14.46,"v":0.09},{"x":34.93,"y":14.46,"v":0.07},{"x":35.26,"y":14.46,"v":0.02},{"x":35.59,"y":14.46,"v":0.11},
{"x":34.26,"y":14.13,"v":0.1},{"x":34.59,"y":14.13,"v":0.09},{"x":34.93,"y":14.13,"v":0.05},{"x":35.26,"y":14.13,"v":-0.01},{"x":35.59,"y":14.13,"v":0.12},
{"x":34.26,"y":13.8,"v":0.095},{"x":34.59,"y":13.8,"v":0.08},{"x":34.93,"y":13.8,"v":0.04},{"x":35.26,"y":13.8,"v":-0.02},{"x":35.59,"y":13.8,"v":0.12},
{"x":34.26,"y":13.46,"v":0.095},{"x":34.59,"y":13.46,"v":0.08},{"x":34.93,"y":13.46,"v":0.04},{"x":35.26,"y":13.46,"v":-0.02},{"x":35.59,"y":13.46,"v":0.12},
{"x":34.26,"y":13.13,"v":0.095},{"x":34.59,"y":13.13,"v":0.08},{"x":34.93,"y":13.13,"v":0.05},{"x":35.26,"y":13.13,"v":-0.01},{"x":35.59,"y":13.13,"v":0.12},
{"x":34.26,"y":12.8,"v":0.1},{"x":34.59,"y":12.8,"v":0.09},{"x":34.93,"y":12.8,"v":0.07},{"x":35.26,"y":12.8,"v":0.03},{"x":35.59,"y":12.8,"v":0.13},
{"x":34.26,"y":12.46,"v":0.12},{"x":34.59,"y":12.46,"v":0.11},{"x":34.93,"y":12.46,"v":0.11},{"x":35.26,"y":12.46,"v":0.1},{"x":35.59,"y":12.46,"v":0.17}
],
"outline":[
{"x":-0.5,"y":15.9},{"x":0,"y":15.9},{"x":2.65,"y":15.52},{"x":5.88,"y":15.02},{"x":9.5,"y":14.52},{"x":11.92,"y":14.37},{"x":14.74,"y":14.33},{"x":17.57,"y":14.43},{"x":20.79,"y":14.56},{"x":24.82,"y":14.81},{"x":28.85,"y":15.1},{"x":32.88,"y":15.35},{"x":35.68,"y":15.45},{"x":35.68,"y":12.43},{"x":38.93,"y":12.33},{"x":42.96,"y":12.2},{"x":47,"y":12.12},{"x":51.03,"y":12.05},{"x":55.06,"y":12.01},{"x":60,"y":11.97},{"x":60,"y":0},{"x":61,"y":0}
],
"bar":[
{"v":-0.1},{"v":-0.095},{"v":-0.09},{"v":-0.085},{"v":-0.08},{"v":-0.075},{"v":-0.07},{"v":-0.065},{"v":-0.06},{"v":-0.055},{"v":-0.05},{"v":-0.045},{"v":-0.04},{"v":-0.035},{"v":-0.03},{"v":-0.025},{"v":-0.02},{"v":-0.015},{"v":-0.01},{"v":-0.005},{"v":0},{"v":0.005},{"v":0.01},{"v":0.015},{"v":0.02},{"v":0.025},{"v":0.03},{"v":0.035},{"v":0.04},{"v":0.045},{"v":0.05},{"v":0.055},{"v":0.06},{"v":0.065},{"v":0.07},{"v":0.075},{"v":0.08},{"v":0.085},{"v":0.09},{"v":0.095},{"v":0.1},{"v":0.105},{"v":0.11},{"v":0.115},{"v":0.12},{"v":0.125},{"v":0.13},{"v":0.135},{"v":0.14},{"v":0.145},{"v":0.15},{"v":0.155},{"v":0.16},{"v":0.165},{"v":0.17},{"v":0.175},{"v":0.18},{"v":0.185},{"v":0.19},{"v":0.195},{"v":0.2},{"v":0.205},{"v":0.21},{"v":0.215},{"v":0.22},{"v":0.225},{"v":0.23},{"v":0.235},{"v":0.24},{"v":0.245},{"v":0.25},{"v":0.255},{"v":0.26},{"v":0.265},{"v":0.27},{"v":0.275},{"v":0.28},{"v":0.285},{"v":0.29},{"v":0.295},{"v":0.3},{"v":0.305},{"v":0.31},{"v":0.315},{"v":0.32},{"v":0.325},{"v":0.33},{"v":0.335},{"v":0.34},{"v":0.345},{"v":0.35},{"v":0.355},{"v":0.36},{"v":0.365},{"v":0.37},{"v":0.375},{"v":0.38},{"v":0.385},{"v":0.39},{"v":0.395},{"v":0.4},{"v":0.405},{"v":0.41},{"v":0.415},{"v":0.42},{"v":0.425},{"v":0.43},{"v":0.435},{"v":0.44},{"v":0.445},{"v":0.45},{"v":0.455},{"v":0.46},{"v":0.465},{"v":0.47},{"v":0.475},{"v":0.48},{"v":0.485},{"v":0.49},{"v":0.495}
]
},
"layer":[
{"layer":[
{"data":{"name":"cells"},"mark":"rect","encoding":{
"x":{"field":"x","type":"quantitative","bin":{"binned":true,"step":1.03},"axis":null,"scale":{"domain":[-1.379,61.827],"range":[0,3529],"nice":false,"zero":false}},
"y":{"field":"y","type":"quantitative","bin":{"binned":true,"step":1.03},"axis":null,"scale":{"domain":[0,16.574],"range":[895,0],"nice":false,"zero":false}},
"color":{"field":"v","type":"quantitative","legend":null,"scale":{"type":"linear","interpolate":"rgb","domain":[-0.1,-0.07,-0.04,-0.014,0.02,0.055,0.08,0.108,0.14,0.17,0.2,0.23,0.26,0.287,0.315,0.355,0.38,0.407,0.44,0.468,0.5],"range":["#0000de","#1220de","#2c4ad7","#406bd1","#3289de","#25a7c7","#18bcae","#1cd095","#47da6c","#74dc44","#8ddb32","#a7d52e","#c1c034","#d2ae32","#de922a","#de6c1c","#d2500e","#c33809","#ba2503","#b11100","#b00000"]}}}},
{"data":{"name":"fine"},"mark":"rect","encoding":{
"x":{"field":"x","type":"quantitative","bin":{"binned":true,"step":0.345},"axis":null},
"y":{"field":"y","type":"quantitative","bin":{"binned":true,"step":0.345},"axis":null},
"color":{"field":"v","type":"quantitative","legend":null}}},
{"data":{"name":"outline"},"mark":{"type":"area","color":"white","opacity":1,"interpolate":"linear"},"encoding":{
"x":{"field":"x","type":"quantitative","axis":null},
"y":{"field":"y","type":"quantitative","axis":null},
"y2":{"datum":16.574}}}
]},
{"layer":[
{"data":{"name":"bar"},"mark":"rect","encoding":{
"x":{"field":"v","type":"quantitative","bin":{"binned":true,"step":0.0053},"scale":{"domain":[-0.1,0.5],"range":[126,3410],"nice":false,"zero":false},
"axis":{"orient":"top","offset":-1521,"values":[-0.1,-0.04,0.02,0.08,0.14,0.2,0.26,0.32,0.38,0.44,0.5],"format":".2f","labelExpr":"replace(datum.label,'−','-')","labelLimit":600,"title":null,"grid":false,"ticks":false,"domain":false,"labelFont":"Liberation Sans","labelFontSize":90,"labelColor":"black","labelPadding":32,"labelFlush":false,"labelOverlap":false,"labelBound":false,"labelAngle":0}},
"y":{"datum":0,"type":"quantitative","axis":null,"scale":{"domain":[0,1],"range":[1644,1522],"nice":false,"zero":false}},
"y2":{"datum":1},
"color":{"field":"v","type":"quantitative","legend":null,"scale":{"type":"linear","interpolate":"rgb","domain":[-0.1,-0.07,-0.04,-0.014,0.02,0.055,0.08,0.108,0.14,0.17,0.2,0.23,0.26,0.287,0.315,0.355,0.38,0.407,0.44,0.468,0.5],"range":["#0000ff","#1525ff","#3355f7","#4a7bf0","#3a9eff","#2ac0e5","#1cd8c8","#20f0ab","#52fb7c","#85fd4e","#a2fc3a","#c0f535","#dedd3c","#f2c83a","#ffa830","#ff7c20","#f25c10","#e0400a","#d62a03","#cc1400","#c00000"]}}}},
{"data":{"values":[{"v":0.14},{"v":0.26},{"v":0.38},{"v":0.5}]},"mark":{"type":"rule","color":"black","strokeWidth":1.5},"encoding":{
"x":{"field":"v","type":"quantitative"},
"y":{"datum":1.107,"type":"quantitative"},
"y2":{"datum":1}}},
{"data":{"values":[{"v":-0.1,"e":0.5}]},"mark":{"type":"rule","color":"black","strokeWidth":2},"encoding":{
"x":{"field":"v","type":"quantitative"},
"x2":{"field":"e"},
"y":{"datum":1,"type":"quantitative"}}}
]}
],
"resolve":{"scale":{"x":"independent","y":"independent","color":"independent"},"axis":{"x":"independent","y":"independent"}}
}
